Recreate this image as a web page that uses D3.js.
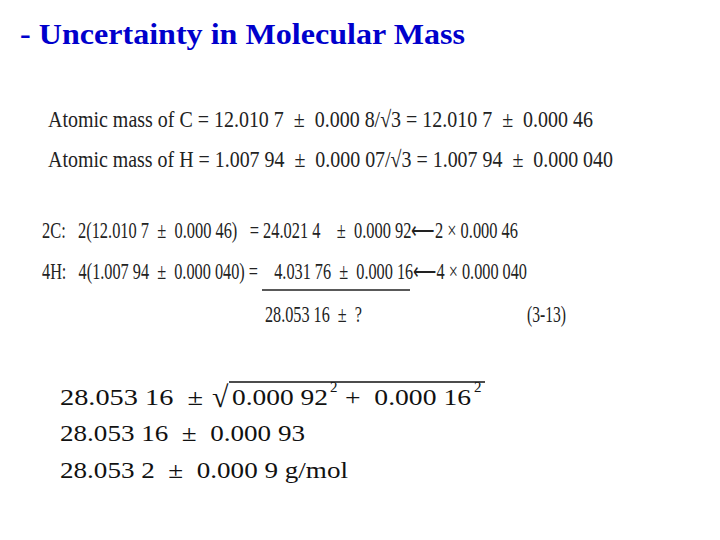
<!DOCTYPE html>
<html><head><meta charset="utf-8">
<script src="https://cdn.jsdelivr.net/npm/d3@7"></script>
<style>body{margin:0;background:#fff} text{white-space:pre}</style>
</head><body>
<script>
const title = "- Uncertainty in Molecular Mass";
const topLines = [
  {t:"Atomic mass of C = 12.010 7  \u00B1  0.000 8/\u221A3 = 12.010 7  \u00B1  0.000 46", x:48, y:127, w:545},
  {t:"Atomic mass of H = 1.007 94  \u00B1  0.000 07/\u221A3 = 1.007 94  \u00B1  0.000 040", x:48, y:167, w:565},
  {t:"2C:   2(12.010 7  \u00B1  0.000 46)   = 24.021 4    \u00B1  0.000 92\u27F52 \u00D7 0.000 46", x:42, y:238, w:476},
  {t:"4H:   4(1.007 94  \u00B1  0.000 040) =    4.031 76  \u00B1  0.000 16\u27F54 \u00D7 0.000 040", x:42, y:279, w:485},
  {t:"28.053 16  \u00B1  ?", x:265, y:322, w:97},
  {t:"(3-13)", x:527, y:322, w:39}
];
const bottomLines = [
  {t:"28.053 16  \u00B1  0.000 93", x:60, y:441, w:245},
  {t:"28.053 2  \u00B1  0.000 9 g/mol", x:60, y:478, w:288}
];
const svg = d3.select("body").append("svg").attr("width",720).attr("height",540);
svg.append("text").attr("x",20).attr("y",44).text(title)
  .attr("font-family","Liberation Serif").attr("font-weight","bold").attr("font-size",29)
  .attr("textLength",445).attr("lengthAdjust","spacingAndGlyphs").attr("fill","#0000cc");
svg.selectAll("text.top").data(topLines).join("text").attr("class","top")
  .attr("x",d=>d.x).attr("y",d=>d.y).text(d=>d.t)
  .attr("textLength",d=>d.w).attr("lengthAdjust","spacingAndGlyphs")
  .attr("font-family","Liberation Serif").attr("font-size",23).attr("fill","#222");
svg.append("line").attr("x1",262).attr("x2",410).attr("y1",290).attr("y2",290).attr("stroke","#222").attr("stroke-width",1.5);
svg.selectAll("text.bot").data(bottomLines).join("text").attr("class","bot")
  .attr("x",d=>d.x).attr("y",d=>d.y).text(d=>d.t)
  .attr("textLength",d=>d.w).attr("lengthAdjust","spacingAndGlyphs")
  .attr("font-family","Liberation Serif").attr("font-size",23).attr("fill","#111");
const F = {"font-family":"Liberation Serif","fill":"#111"};
function put(x,y,t,size,w){const e=svg.append("text").attr("x",x).attr("y",y).text(t).attr("font-size",size);
  for(const k in F)e.attr(k,F[k]); if(w)e.attr("textLength",w).attr("lengthAdjust","spacingAndGlyphs");}
put(60,405,"28.053 16  \u00B1",23,143);
put(212,407,"\u221A",30);
put(232,405,"0.000 92",23,96);
put(330,392,"2",15);
put(345,405,"+  0.000 16",23,126);
put(474,392,"2",15);
svg.append("line").attr("x1",229).attr("x2",485).attr("y1",382).attr("y2",382).attr("stroke","#111").attr("stroke-width",1.3);
</script>
</body></html>
